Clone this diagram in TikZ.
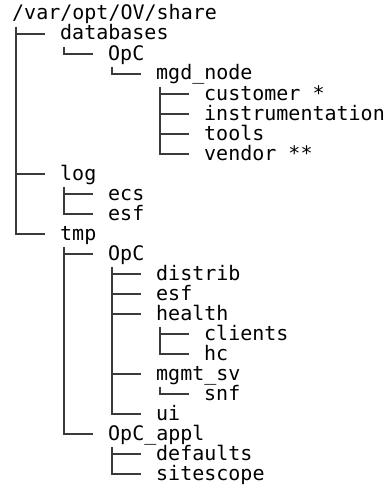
\documentclass[tikz,border=0pt]{standalone}
\usepackage{fontspec}
\setmonofont{DejaVu Sans Mono}
\usepackage{tikz}
\definecolor{treegray}{RGB}{58,58,58}

% branch from parent to child
\newcommand{\branch}[2]{\draw[treeline] ([xshift=4pt,yshift=-7pt]#1.base west) |- ([xshift=-15pt,yshift=6pt]#2.base west);}

\begin{document}
\begin{tikzpicture}[x=1pt,y=-1pt,
    dir/.style={font=\ttfamily\fontsize{20}{24}\selectfont, inner sep=0pt, anchor=base west},
    treeline/.style={treegray, line width=1.5pt}]
    \useasboundingbox (0,0) rectangle (387,487);
    % root
    \node[dir] (root) at (12,20) {/var/opt/OV/share};
    % databases
    \node[dir] (db) at (60,40) {databases};
    \node[dir] (dbopc) at (108,60) {OpC};
    \node[dir] (mgd) at (156,80) {mgd\_node};
    \node[dir] (cust) at (204,100) {customer *};
    \node[dir] (instr) at (204,120) {instrumentation};
    \node[dir] (tools) at (204,140) {tools};
    \node[dir] (vendor) at (204,160) {vendor **};
    % log
    \node[dir] (log) at (60,180) {log};
    \node[dir] (ecs) at (108,200) {ecs};
    \node[dir] (logesf) at (108,220) {esf};
    % tmp
    \node[dir] (tmp) at (60,240) {tmp};
    \node[dir] (tmpopc) at (108,260) {OpC};
    \node[dir] (distrib) at (156,280) {distrib};
    \node[dir] (esf) at (156,300) {esf};
    \node[dir] (health) at (156,320) {health};
    \node[dir] (clients) at (204,340) {clients};
    \node[dir] (hc) at (204,360) {hc};
    \node[dir] (mgmt) at (156,380) {mgmt\_sv};
    \node[dir] (snf) at (204,400) {snf};
    \node[dir] (ui) at (156,420) {ui};
    \node[dir] (appl) at (108,440) {OpC\_appl};
    \node[dir] (defaults) at (156,460) {defaults};
    \node[dir] (site) at (156,480) {sitescope};

    % tree lines
    \branch{root}{db}
    \branch{root}{log}
    \branch{root}{tmp}
    \branch{db}{dbopc}
    \branch{dbopc}{mgd}
    \branch{mgd}{cust}
    \branch{mgd}{instr}
    \branch{mgd}{tools}
    \branch{mgd}{vendor}
    \branch{log}{ecs}
    \branch{log}{logesf}
    \branch{tmp}{tmpopc}
    \branch{tmp}{appl}
    \branch{tmpopc}{distrib}
    \branch{tmpopc}{esf}
    \branch{tmpopc}{health}
    \branch{tmpopc}{mgmt}
    \branch{tmpopc}{ui}
    \branch{health}{clients}
    \branch{health}{hc}
    \branch{mgmt}{snf}
    \branch{appl}{defaults}
    \branch{appl}{site}
\end{tikzpicture}
\end{document}
